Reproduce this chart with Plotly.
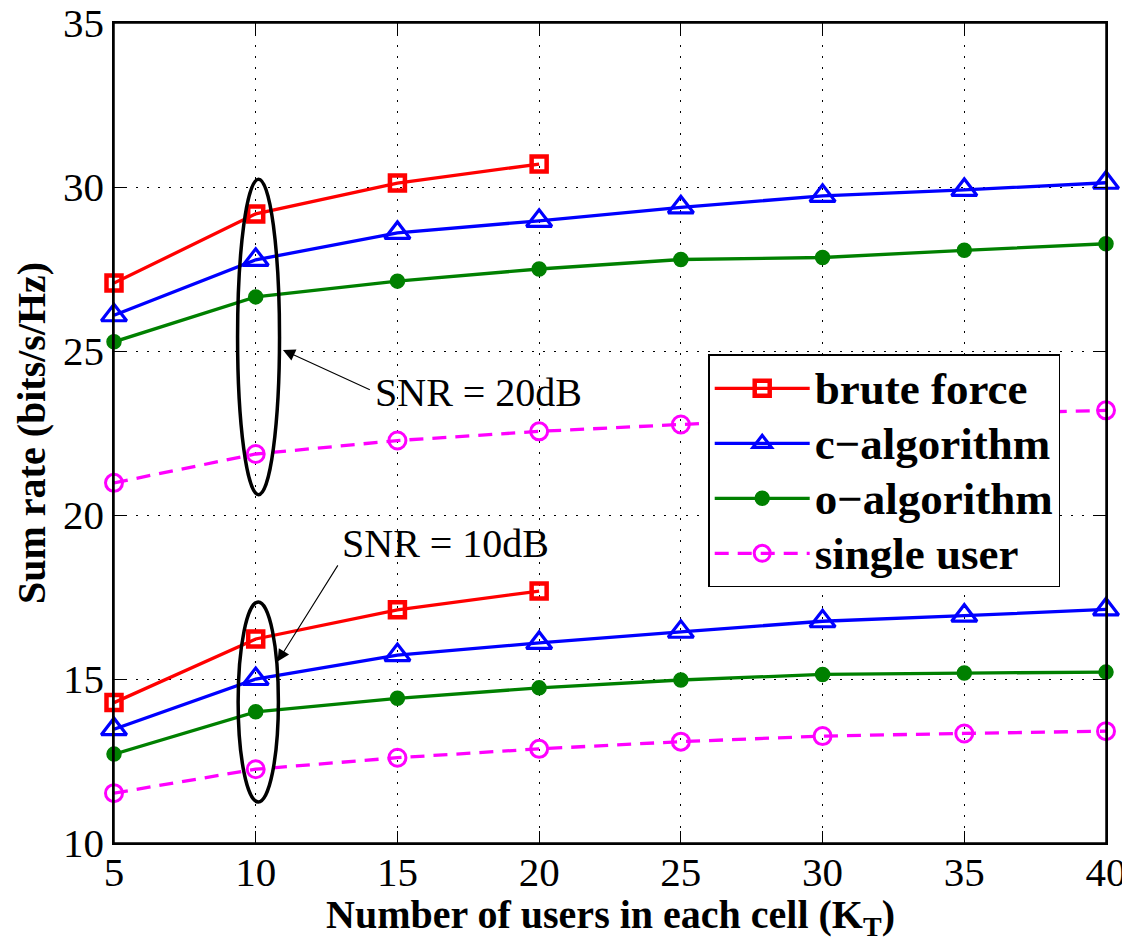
import plotly.graph_objects as go

# ---------------- data ----------------
users_all = [5, 10, 15, 20, 25, 30, 35, 40]
users_bf = [5, 10, 15, 20]

brute_20 = [27.07, 29.18, 30.12, 30.70]
calg_20 = [26.09, 27.78, 28.60, 28.97, 29.38, 29.73, 29.91, 30.13]
oalg_20 = [25.28, 26.65, 27.13, 27.50, 27.79, 27.85, 28.07, 28.27]
single_20 = [20.98, 21.86, 22.27, 22.55, 22.76, 22.95, 23.08, 23.19]

brute_10 = [14.28, 16.22, 17.11, 17.68]
calg_10 = [13.47, 15.00, 15.73, 16.10, 16.44, 16.76, 16.93, 17.12]
oalg_10 = [12.71, 14.00, 14.41, 14.73, 14.97, 15.14, 15.18, 15.21]
single_10 = [11.52, 12.25, 12.60, 12.87, 13.09, 13.26, 13.34, 13.41]

series_names = ["brute force", "c\u2212algorithm", "o\u2212algorithm", "single user"]
x_ticks = [5, 10, 15, 20, 25, 30, 35, 40]
y_ticks = [10, 15, 20, 25, 30, 35]
x_title = "Number of users in each cell (K<sub>T</sub>)"
y_title = "Sum rate (bits/s/Hz)"

# annotation geometry (data units)
ellipse_20 = dict(x0=9.36, x1=10.84, y0=20.62, y1=30.24)
ellipse_10 = dict(x0=9.38, x1=10.80, y0=11.25, y1=17.35)
label_20 = dict(text="SNR = 20dB", x=14.13, y=23.75)
label_10 = dict(text="SNR = 10dB", x=12.97, y=19.14)
arrow_20 = dict(x=10.96, y=25.03, ax=14.08, ay=23.80)
arrow_10 = dict(x=10.77, y=15.53, ax=12.93, ay=18.51)

FONT = "Liberation Serif"

styles = {
    "brute force": dict(color="#FF0000", symbol="square-open", size=15, lw=4.5, dash="solid"),
    "c\u2212algorithm": dict(color="#0000FF", symbol="triangle-up-open", size=22, lw=3.2, dash="solid"),
    "o\u2212algorithm": dict(color="#008000", symbol="circle", size=14, lw=1.5, dash="solid"),
    "single user": dict(color="#FF00FF", symbol="circle-open", size=17, lw=3, dash="14px,9px"),
}

groups = [
    ("brute force", users_bf, brute_20, brute_10),
    ("c\u2212algorithm", users_all, calg_20, calg_10),
    ("o\u2212algorithm", users_all, oalg_20, oalg_10),
    ("single user", users_all, single_20, single_10),
]

fig = go.Figure()
for name, xs, y20, y10 in groups:
    st = styles[name]
    for i, ys in enumerate([y20, y10]):
        fig.add_trace(go.Scatter(
            x=xs, y=ys, mode="lines+markers",
            name="<span style='font-size:45px'>%s</span>" % name,
            legendgroup=name, showlegend=(i == 0),
            line=dict(color=st["color"], width=3.3, dash=st["dash"]),
            marker=dict(symbol=st["symbol"], size=st["size"], color=st["color"],
                        line=dict(color=st["color"], width=st["lw"])),
            cliponaxis=False,
        ))

axis_common = dict(
    showgrid=True, gridcolor="black", gridwidth=1, griddash="2px,9px",
    showline=True, linecolor="black", linewidth=1.5, mirror="allticks",
    ticks="inside", ticklen=12, tickcolor="black", tickwidth=1,
    tickfont=dict(family=FONT, size=41, color="black"),
    zeroline=False, automargin=False, ticklabeloverflow="allow",
)

fig.update_xaxes(range=[5, 40], tickvals=x_ticks, ticklabelstandoff=-8, **axis_common)
fig.update_yaxes(range=[10, 35], tickvals=y_ticks, ticklabelstandoff=0, **axis_common)

# axes box
fig.add_shape(type="rect", xref="paper", yref="paper", x0=0, x1=1, y0=0, y1=1,
              line=dict(color="black", width=1.5), layer="above")

# axis titles
fig.add_annotation(text=x_title, xref="paper", yref="paper", x=0.5, y=0,
                   xanchor="center", yanchor="top", yshift=-47, showarrow=False,
                   font=dict(family=FONT, size=40, color="black", weight="bold"))
fig.add_annotation(text=y_title, xref="paper", yref="paper", x=0, y=0.5,
                   xanchor="center", yanchor="middle", xshift=-83, textangle=-90,
                   showarrow=False,
                   font=dict(family=FONT, size=40, color="black", weight="bold"))

for e in (ellipse_20, ellipse_10):
    fig.add_shape(type="circle", xref="x", yref="y", line=dict(color="black", width=3.5),
                  **e)

for lab in (label_20, label_10):
    fig.add_annotation(text=lab["text"], x=lab["x"], y=lab["y"], xref="x", yref="y",
                       xanchor="left", yanchor="middle", showarrow=False,
                       font=dict(family=FONT, size=40, color="black"))

for a in (arrow_20, arrow_10):
    fig.add_annotation(text="", x=a["x"], y=a["y"], ax=a["ax"], ay=a["ay"],
                       xref="x", yref="y", axref="x", ayref="y",
                       showarrow=True, arrowhead=2, arrowsize=2.2, arrowwidth=1.1,
                       arrowcolor="black")

fig.update_layout(
    width=1122, height=939,
    margin=dict(l=106, r=24, t=15, b=104),
    paper_bgcolor="white", plot_bgcolor="white",
    font=dict(family=FONT, color="black"),
    legend=dict(x=0.599, y=0.596, xanchor="left", yanchor="top",
                bgcolor="white", bordercolor="black", borderwidth=1.5,
                font=dict(family=FONT, size=40, color="black", weight="bold"),
                itemwidth=95, tracegroupgap=0),
)

fig.write_html("out.html")
